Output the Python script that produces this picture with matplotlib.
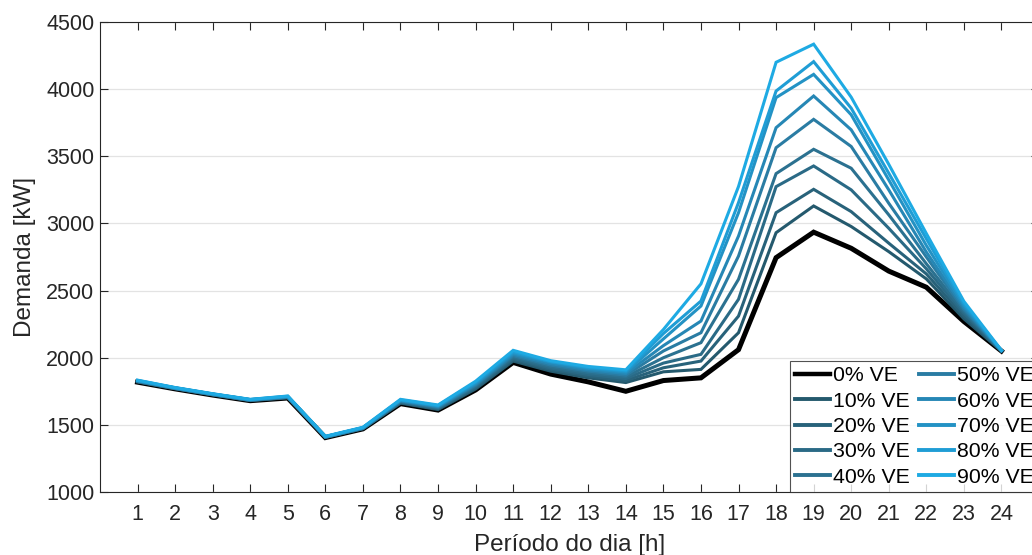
import matplotlib
matplotlib.use("Agg")
import matplotlib.pyplot as plt

plt.rcParams['font.family'] = ['Liberation Sans', 'DejaVu Sans']

hours = list(range(1, 25))
labels = ['0% VE', '10% VE', '20% VE', '30% VE', '40% VE',
          '50% VE', '60% VE', '70% VE', '80% VE', '90% VE']

ve0 = [1818,1768,1722,1680,1700,1405,1470,1658,1610,1760,1965,1878,1820,1750,1830,1850,2060,2745,2935,2815,2645,2525,2270,2050]
ve10 = [1820,1769,1723,1681,1702,1406,1471,1662,1614,1767,1975,1900,1850,1815,1895,1913,2186,2931,3130,2977,2790,2587,2290,2050]
ve20 = [1821,1770,1724,1682,1703,1407,1472,1665,1619,1774,1985,1912,1863,1830,1925,1975,2310,3080,3254,3088,2853,2624,2310,2051]
ve30 = [1823,1771,1725,1683,1705,1408,1474,1669,1623,1782,1995,1923,1875,1845,1960,2025,2435,3274,3428,3250,2964,2662,2330,2051]
ve40 = [1824,1772,1726,1684,1706,1409,1475,1672,1627,1789,2005,1934,1888,1858,2000,2112,2584,3371,3552,3411,3064,2700,2345,2052]
ve50 = [1826,1773,1727,1685,1708,1410,1476,1676,1631,1796,2015,1945,1900,1870,2050,2186,2757,3564,3775,3573,3150,2750,2360,2052]
ve60 = [1828,1774,1728,1686,1710,1411,1477,1679,1636,1803,2025,1956,1910,1882,2090,2273,2906,3713,3949,3697,3250,2787,2375,2053]
ve70 = [1829,1775,1729,1688,1711,1412,1479,1683,1640,1810,2035,1967,1920,1893,2140,2385,3080,3937,4110,3809,3324,2836,2390,2053]
ve80 = [1831,1777,1731,1689,1713,1413,1480,1686,1644,1818,2045,1972,1928,1902,2180,2422,3155,3986,4205,3858,3374,2886,2405,2054]
ve90 = [1833,1778,1732,1690,1715,1415,1482,1690,1648,1825,2055,1978,1935,1910,2210,2550,3275,4200,4335,3940,3440,2925,2420,2055]

series = [ve0, ve10, ve20, ve30, ve40, ve50, ve60, ve70, ve80, ve90]
colors = ['#000000', '#24596d', '#28627a', '#2a6a86', '#2b7190',
          '#2a7ca3', '#2687b5', '#2392c4', '#1f9dd5', '#1eaae3']
widths = [3.6] + [2.2] * 9

fig = plt.figure(figsize=(10.32, 5.55), dpi=100)
ax = fig.add_axes([100/1032, 63/555, 939/1032, 470/555])

for s, c, w, lab in zip(series, colors, widths, labels):
    ax.plot(hours, s, color=c, lw=w, label=lab, solid_joinstyle='miter')

ax.set_xlim(0, 25)
ax.set_ylim(1000, 4500)
ax.set_xticks(hours)
ax.set_yticks(range(1000, 4501, 500))
ax.yaxis.grid(True, color='#e3e3e3', lw=0.9)
ax.set_axisbelow(True)
ax.tick_params(direction='in', top=True, right=True, length=6, width=0.8,
               labelsize=15.5, colors='#262626')
ax.tick_params(axis='x', pad=9)
ax.tick_params(axis='y', pad=4)
for sp in ax.spines.values():
    sp.set_color('#262626')
    sp.set_linewidth(0.8)

ax.set_xlabel('Período do dia [h]', fontsize=17.5, color='#262626', labelpad=6)
ax.set_ylabel('Demanda [kW]', fontsize=17.5, color='#262626', labelpad=7)

leg = ax.legend(ncol=2, loc='lower right', bbox_to_anchor=(1.0, 0.0),
                borderaxespad=0.0, fontsize=15.3, frameon=True, fancybox=False,
                handlelength=1.65, handletextpad=0.15, columnspacing=0.4,
                labelspacing=0.3, borderpad=0.25)
leg.get_frame().set_edgecolor('#262626')
leg.get_frame().set_linewidth(0.8)
for h in leg.get_lines():
    h.set_linewidth(2.8)
leg.get_lines()[0].set_linewidth(3.2)

fig.savefig('out.png', dpi=100)
